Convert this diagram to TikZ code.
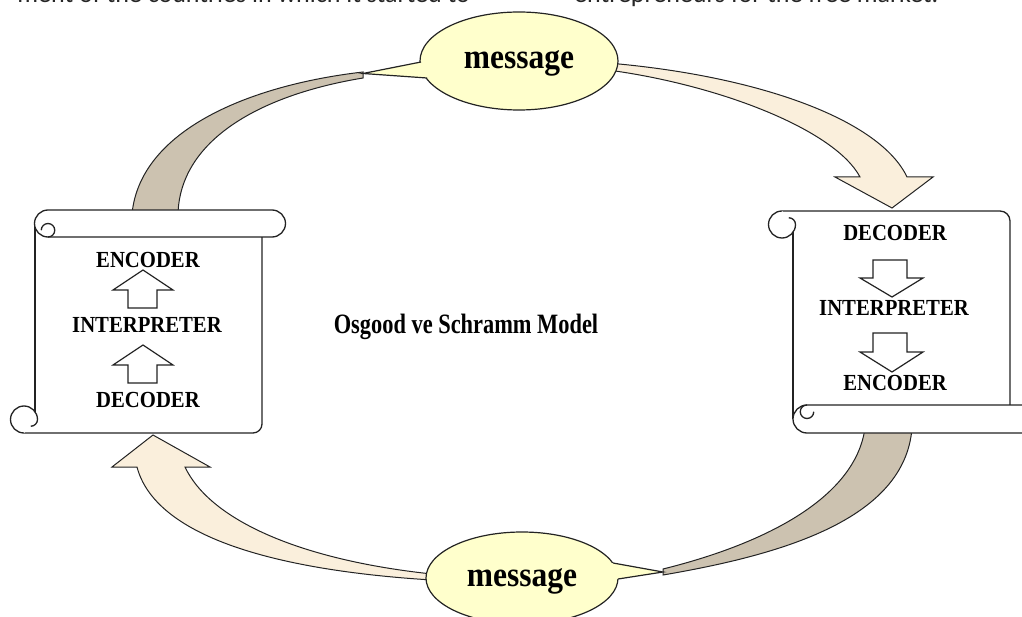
\documentclass[tikz,border=0pt]{standalone}
\usepackage{fontspec}
\newfontfamily\dia[FakeStretch=0.9]{Liberation Serif}
\newfontfamily\diat[FakeStretch=0.8]{Liberation Serif}
\newfontfamily\topfont{Carlito}
\usetikzlibrary{shapes.geometric}
\definecolor{msgfill}{RGB}{255,255,204}
\definecolor{tanband}{RGB}{204,194,176}
\definecolor{creamband}{RGB}{250,239,220}
\definecolor{edge}{RGB}{35,35,35}
\begin{document}
\begin{tikzpicture}[x=1pt,y=-1pt,
  outline/.style={draw=edge,line width=1.3pt},
  tanflow/.style={fill=tanband,draw=edge,line width=1pt},
  creamflow/.style={fill=creamband,draw=edge,line width=1pt},
  msg/.style={ellipse,fill=msgfill,draw=edge,line width=1.2pt,inner sep=0pt,
    text height=16pt,text depth=0pt,font=\dia\bfseries\fontsize{35}{40}\selectfont},
  lab/.style={inner sep=0pt,text depth=0pt,font=\dia\bfseries\fontsize{23}{26}\selectfont},
  blockarrow/.style={draw=edge,line width=1.2pt,fill=white,line join=miter},
  toptext/.style={inner sep=0pt,text=black!85,font=\topfont\fontsize{26}{30}\selectfont}
]
\useasboundingbox (0,0) rectangle (1022,617);
\clip (0,0) rectangle (1022,617);

% clipped line of body text at the top
\node[toptext,anchor=base east] (t1) at (470,2.5) {ment of the countries in which it started to};
\node[toptext,anchor=base west] (t2) at (574,2.5) {entrepreneurs for the free market.};

% curved flow bands
\coordinate (tlTip) at (363,73.5);
\coordinate (brTip) at (663,572);
\draw[tanflow] (132,214) .. controls (140,130) and (250,85) .. (363,72)
  -- (363,78) .. controls (260,95) and (180,140) .. (178,214) -- cycle;
\draw[creamflow] (608,63) .. controls (760,76) and (880,120) .. (907,177)
  -- (933,177) -- (892,208) -- (835,177) -- (860,177)
  .. controls (835,130) and (720,85) .. (608,70) -- cycle;
\draw[tanflow] (912,428) .. controls (905,520) and (780,555) .. (663,575)
  -- (663,569) .. controls (760,545) and (855,500) .. (865,428) -- cycle;
\draw[creamflow] (432,580) .. controls (270,570) and (155,535) .. (137,467)
  -- (112,467) -- (153,435) -- (210,467) -- (185,467)
  .. controls (210,520) and (300,560) .. (432,574) -- cycle;

% ---- left scroll ----
\fill[white] (35,224) rectangle (262,433);
\draw[outline,rounded corners=9] (262,237) -- (262,433) -- (24,433);
\draw[outline] (35,226) -- (35,411.7);
\draw[outline,fill=white] (24,433) arc[start angle=90,end angle=270,radius=13.5]
  arc[start angle=-90,end angle=0,radius=13.5]
  arc[start angle=0,end angle=90,radius=6.75];
\draw[outline,fill=white] (48,210) -- (272,210) arc[start angle=-90,end angle=90,radius=13.5]
  -- (48,237) arc[start angle=90,end angle=270,radius=13.5] -- cycle;
\draw[outline] (48,237) arc[start angle=90,end angle=-180,radius=6.75];

% ---- right scroll ----
\fill[white] (793,211) rectangle (1010,420);
\draw[outline,rounded corners=10] (782,211) -- (1010,211) -- (1010,405);
\draw[outline] (793,232.3) -- (793,419);
\draw[outline,fill=white] (782,211) arc[start angle=-90,end angle=-270,radius=13.5]
  arc[start angle=90,end angle=0,radius=13.5]
  arc[start angle=0,end angle=-90,radius=6.75];
\draw[outline,fill=white] (1040,405) -- (807,405) arc[start angle=270,end angle=90,radius=14]
  -- (1040,433);
\draw[outline] (807,405) arc[start angle=270,end angle=0,radius=6.75];

% ---- message callouts ----
\node[msg,minimum width=198pt,minimum height=98pt] (m1) at (519,61) {message};
\fill[msgfill] (421,62) -- (tlTip) -- (427,78) -- (445,78) -- (445,62) -- cycle;
\draw[outline,line width=1.2pt] (421,62) -- (tlTip) -- (427,78);

\node[msg,minimum width=192pt,minimum height=92pt] (m2) at (522,578) {message};
\fill[msgfill] (613,563) -- (brTip) -- (618,579) -- (600,579) -- (600,563) -- cycle;
\draw[outline,line width=1.2pt] (613,563) -- (brTip) -- (618,579);

% ---- left scroll contents ----
\node[lab] (lenc) at (148,260) {ENCODER};
\node[lab] (lint) at (147,325) {INTERPRETER};
\node[lab] (ldec) at (148,400) {DECODER};
\draw[blockarrow] (143,270) -- (173,290) -- (157,290) -- (157,308) -- (128,308) -- (128,290) -- (113,290) -- cycle;
\draw[blockarrow] (143,345) -- (173,365) -- (157,365) -- (157,383) -- (128,383) -- (128,365) -- (113,365) -- cycle;

% ---- right scroll contents ----
\node[lab] (rdec) at (895,233) {DECODER};
\node[lab] (rint) at (894,308) {INTERPRETER};
\node[lab] (renc) at (895,383) {ENCODER};
\draw[blockarrow] (873,260) -- (907,260) -- (907,278) -- (923,278) -- (892,297) -- (860,278) -- (873,278) -- cycle;
\draw[blockarrow] (873,333) -- (907,333) -- (907,352) -- (923,352) -- (892,372) -- (860,352) -- (873,352) -- cycle;

% ---- title ----
\node[inner sep=0pt,font=\diat\bfseries\fontsize{28}{32}\selectfont] (title) at (466,327) {Osgood ve Schramm Model};
\end{tikzpicture}
\end{document}
